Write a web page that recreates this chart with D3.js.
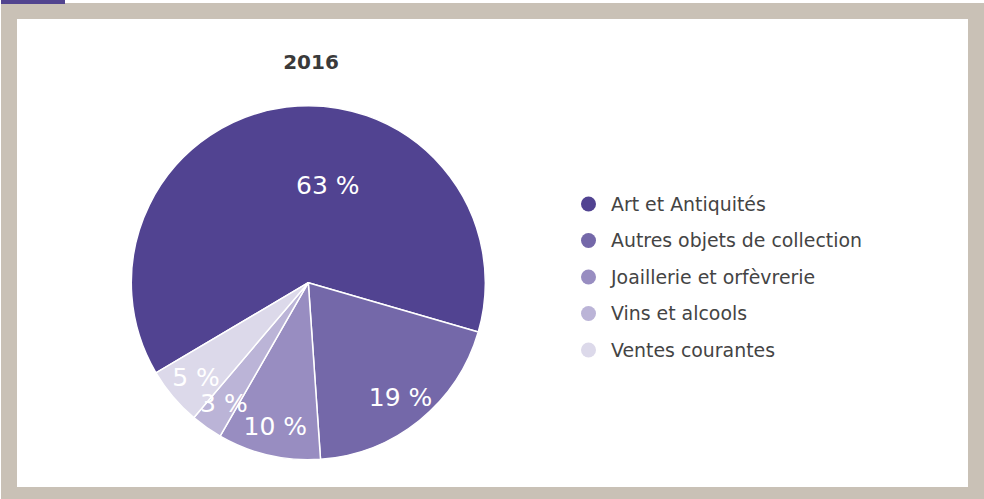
<!DOCTYPE html>
<html>
<head>
<meta charset="utf-8">
<script src="https://cdn.jsdelivr.net/npm/d3@7"></script>
<style>
  html, body { margin: 0; padding: 0; background: #ffffff; }
  svg { display: block; }
</style>
</head>
<body>
<svg id="chart" width="984" height="499"></svg>
<script>
// ---- data ----
const title = "2016";
const categories = ["Art et Antiquités", "Autres objets de collection", "Joaillerie et orfèvrerie", "Vins et alcools", "Ventes courantes"];
const values = [63.0, 19.4, 9.4, 2.9, 5.3];
const labels = ["63 %", "19 %", "10 %", "3 %", "5 %"];
const colors = ["#514391", "#7468a9", "#988dc1", "#bbb4d7", "#dcd9ea"];

// ---- layout ----
const svg = d3.select("#chart");
const W = 984, H = 499;
const font = "'DejaVu Sans', sans-serif";

// frame
svg.append("rect").attr("x", 1).attr("y", 3).attr("width", W - 1).attr("height", H - 3).attr("fill", "#c9c1b6");
svg.append("rect").attr("x", 1).attr("y", 0).attr("width", 64).attr("height", 4).attr("fill", "#52448f");
svg.append("rect").attr("x", 17).attr("y", 19).attr("width", 951).attr("height", 468).attr("fill", "#ffffff");

// title
svg.append("text")
  .attr("x", 311).attr("y", 69)
  .attr("text-anchor", "middle")
  .attr("font-family", font).attr("font-weight", "bold").attr("font-size", 20)
  .attr("fill", "#3a3a3a")
  .text(title);

// pie
const cx = 308.3, cy = 282.7, R = 177;
const pie = d3.pie().sort(null).value(d => d)
  .startAngle(-120.6 * Math.PI / 180)
  .endAngle((360 - 120.6) * Math.PI / 180);
const arcs = pie(values);
const arc = d3.arc().innerRadius(0).outerRadius(R);
const g = svg.append("g").attr("transform", `translate(${cx},${cy})`);
g.selectAll("path").data(arcs).join("path")
  .attr("d", arc)
  .attr("fill", (d, i) => colors[i])
  .attr("stroke", "#ffffff").attr("stroke-width", 1.5).attr("stroke-linejoin", "round");

// labels
const outerLabelArc = d3.arc().innerRadius(R * 0.83).outerRadius(R * 0.83);
const innerLabelArc = d3.arc().innerRadius(R * 0.555).outerRadius(R * 0.555);
g.selectAll("text.lbl").data(arcs).join("text")
  .attr("class", "lbl")
  .each(function(d, i) {
    const big = (d.endAngle - d.startAngle) > Math.PI;
    const c = big ? innerLabelArc.centroid(d) : outerLabelArc.centroid(d);
    d3.select(this)
      .attr("x", c[0]).attr("y", c[1])
      .attr("text-anchor", big ? "start" : "middle");
  })
  .attr("dy", "0.36em")
  .attr("font-family", font).attr("font-size", 25)
  .attr("fill", "#ffffff")
  .text((d, i) => labels[i]);

// legend
const ly = d3.scalePoint().domain(categories).range([204, 350]);
const leg = svg.append("g");
leg.selectAll("circle").data(categories).join("circle")
  .attr("cx", 588.5).attr("cy", d => ly(d)).attr("r", 7.5)
  .attr("fill", (d, i) => colors[i]);
leg.selectAll("text").data(categories).join("text")
  .attr("x", 611).attr("y", d => ly(d))
  .attr("dy", "0.36em")
  .attr("font-family", font).attr("font-size", 18.9)
  .attr("fill", "#444444")
  .text(d => d);
</script>
</body>
</html>
